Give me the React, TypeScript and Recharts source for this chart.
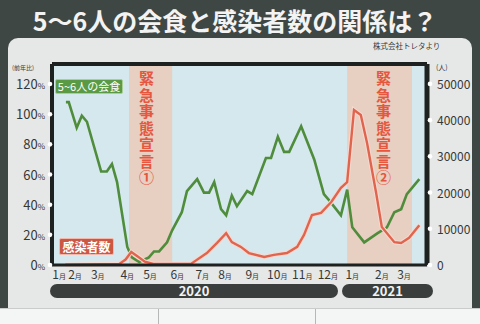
import {
  ComposedChart,
  Line,
  XAxis,
  YAxis,
  ReferenceArea,
  ReferenceLine,
} from "recharts";

// x is in weeks from the start of 2020
const greenWeeks = [2.1, 2.6, 4.0, 4.9, 5.8, 8.3, 9.3, 10.2, 11.1, 12.9, 13.7, 15.0, 16.7, 17.6, 18.5, 19.9, 20.8, 22.5, 23.4, 25.2, 26.4, 27.3, 28.2, 29.4, 30.3, 31.3, 32.2, 34.0, 34.9, 37.3, 38.2, 39.4, 40.5, 41.4, 43.5, 45.8, 47.5, 48.4, 50.5, 51.6, 52.5, 54.6, 56.9, 58.6, 59.9, 61.1, 62.1, 64.3];
const greenPct = [108, 108, 91, 99, 95, 62, 62, 67, 55, 12, 5, 2, 5, 9, 9, 15, 23, 35, 49, 57, 48, 48, 55, 37, 33, 46, 39, 49, 47, 71, 71, 85, 75, 75, 92, 70, 47, 43, 33, 50, 25, 15, 21, 25, 35, 37, 47, 57];

const redWeeks = [2.0, 11.5, 12.6, 13.6, 14.8, 16.0, 17.5, 21.1, 24.1, 26.9, 28.7, 30.3, 31.3, 32.9, 34.3, 37.0, 38.7, 41.0, 42.8, 44.0, 45.4, 47.0, 48.8, 50.5, 51.6, 52.8, 54.0, 55.1, 56.7, 57.7, 59.9, 61.1, 62.5, 64.3];
const redCases = [100, 300, 1500, 3600, 2300, 900, 300, 300, 300, 3300, 6100, 8800, 6300, 5000, 3300, 2200, 2800, 3300, 5000, 8300, 13800, 14400, 17400, 21300, 22900, 42800, 41400, 33700, 19900, 10500, 6300, 6100, 7500, 11000];

const monthTicks = [0.9, 3.7, 7.7, 12.9, 16.9, 21.7, 26.1, 30.1, 34.9, 39.3, 43.7, 48.2, 52.5, 57.7, 61.6];
const monthLabels = ["1", "2", "3", "4", "5", "6", "7", "8", "9", "10", "11", "12", "1", "2", "3"];
const pctTicks = [0, 20, 40, 60, 80, 100, 120];
const caseTicks = [0, 10000, 20000, 30000, 40000, 50000];
const emergencies = [
  { from: 13.2, to: 20.8, label: "緊急事態宣言①" },
  { from: 51.6, to: 63.0, label: "緊急事態宣言②" },
];

const greenData = greenWeeks.map((w, i) => ({ w, pct: greenPct[i] }));
const redData = redWeeks.map((w, i) => ({ w, cases: redCases[i] }));

const FONT = "'Noto Sans CJK JP', 'Noto Sans', sans-serif";
const GREEN = "#4f8c3b";
const RED = "#e0654f";
const TEXT = "#353838";
const FRAME = "#1d2120";

function LeftTick({ x, y, payload }: any) {
  return (
    <g>
      <circle cx={x - 2} cy={y} r={2.3} fill="#fff" />
      <text x={x - 7} y={y + 5} textAnchor="end" fill={TEXT} fontSize={13} fontFamily={FONT}>
        {payload.value}
        <tspan fontSize={8}>%</tspan>
      </text>
    </g>
  );
}

function RightTick({ x, y, payload }: any) {
  return (
    <g>
      <circle cx={x + 3} cy={y} r={2.3} fill="#fff" />
      <text x={x + 10} y={y + 5} textAnchor="start" fill={TEXT} fontSize={12} fontFamily={FONT}>
        {payload.value}
      </text>
    </g>
  );
}

function MonthTick({ x, y, payload }: any) {
  const label = monthLabels[monthTicks.indexOf(payload.value)];
  return (
    <text x={x} y={y + 14} textAnchor="middle" fill={TEXT} fontSize={12} fontFamily={FONT}>
      {label}
      <tspan fontSize={7}>月</tspan>
    </text>
  );
}

function YearPill({ left, width, year }: { left: number; width: number; year: string }) {
  return (
    <div
      style={{
        position: "absolute",
        left,
        top: 284,
        width,
        height: 14,
        borderRadius: 7,
        background: "#3a3f3e",
        color: "#f2f2f2",
        fontFamily: FONT,
        fontWeight: 700,
        fontSize: 13,
        lineHeight: "14px",
        textAlign: "center",
      }}
    >
      {year}
    </div>
  );
}

export default function App() {
  return (
    <div style={{ position: "absolute", left: 0, top: 0, width: 480, height: 324, background: "#3f4744", overflow: "hidden" }}>
      <div
        style={{
          position: "absolute",
          left: 0,
          top: 4,
          width: 470,
          textAlign: "center",
          color: "#f3f3f3",
          fontFamily: FONT,
          fontWeight: 700,
          fontSize: 25,
          lineHeight: "32px",
        }}
      >
        5～6人の会食と感染者数の関係は？
      </div>
      <div style={{ position: "absolute", left: 8, top: 38, width: 464, height: 270, background: "#e6e8e7", borderRadius: "10px 10px 0 0" }} />
      <div style={{ position: "absolute", left: 0, top: 308, width: 480, height: 16, background: "#f4f5f5", borderTop: "1px solid #c9cccb" }} />
      <div style={{ position: "absolute", left: 158, top: 309, width: 1, height: 15, background: "#b5b8b7" }} />
      <div style={{ position: "absolute", left: 315, top: 309, width: 1, height: 15, background: "#b5b8b7" }} />
      <div style={{ position: "absolute", left: 373, top: 40, fontFamily: FONT, fontSize: 7.5, color: TEXT }}>株式会社トレタより</div>
      <div style={{ position: "absolute", left: 12, top: 63, fontFamily: FONT, fontSize: 6, color: TEXT }}>(前年比)</div>
      <div style={{ position: "absolute", left: 436, top: 62, fontFamily: FONT, fontSize: 7, color: TEXT }}>(人)</div>

      <div style={{ position: "absolute", left: 0, top: 0 }}>
        <ComposedChart width={480} height={324} margin={{ top: 64, right: 8, bottom: 39, left: 12 }}>
          <XAxis
            type="number"
            dataKey="w"
            domain={[-0.35, 65.65]}
            ticks={monthTicks}
            interval={0}
            tick={<MonthTick />}
            tickSize={0}
            tickMargin={0}
            height={20}
            axisLine={{ stroke: FRAME, strokeWidth: 3 }}
            allowDuplicatedCategory={false}
          />
          <YAxis
            yAxisId="pct"
            orientation="left"
            domain={[0, 133.3]}
            ticks={pctTicks}
            interval={0}
            tick={<LeftTick />}
            tickSize={0}
            tickMargin={0}
            width={40}
            axisLine={{ stroke: FRAME, strokeWidth: 4 }}
          />
          <YAxis
            yAxisId="cases"
            orientation="right"
            domain={[0, 55500]}
            ticks={caseTicks}
            interval={0}
            tick={<RightTick />}
            tickSize={0}
            tickMargin={0}
            width={45}
            axisLine={{ stroke: FRAME, strokeWidth: 5 }}
          />
          <ReferenceArea yAxisId="pct" x1={-0.35} x2={65.65} y1={0} y2={133.3} fill="#d4e8ed" fillOpacity={1} stroke="none" />
          {emergencies.map((e) => (
            <ReferenceArea key={e.label} yAxisId="pct" x1={e.from} x2={e.to} y1={0} y2={133.3} fill="#e7cfc1" fillOpacity={1} stroke="none" />
          ))}
          <ReferenceLine yAxisId="pct" y={133.3} stroke={FRAME} strokeWidth={4} />
          <Line
            yAxisId="pct"
            data={greenData}
            dataKey="pct"
            type="linear"
            stroke={GREEN}
            strokeWidth={2.6}
            dot={false}
            isAnimationActive={false}
          />
          <Line
            yAxisId="cases"
            data={redData}
            dataKey="cases"
            type="linear"
            stroke="#f6d9d0"
            strokeWidth={4.5}
            dot={false}
            isAnimationActive={false}
          />
          <Line
            yAxisId="cases"
            data={redData}
            dataKey="cases"
            type="linear"
            stroke={RED}
            strokeWidth={2.4}
            dot={false}
            isAnimationActive={false}
          />
        </ComposedChart>
      </div>

      <div
        style={{
          position: "absolute",
          left: 55,
          top: 79,
          width: 68,
          height: 15,
          background: "#5a9a45",
          border: "1px solid #a9cf98",
          borderRadius: 2,
          boxSizing: "border-box",
          color: "#fff",
          fontFamily: FONT,
          fontSize: 11,
          lineHeight: "13px",
          textAlign: "center",
        }}
      >
        5~6人の会食
      </div>
      <div
        style={{
          position: "absolute",
          left: 59,
          top: 238,
          width: 55,
          height: 17,
          background: "#cc5843",
          border: "1px solid #f1b9ad",
          borderRadius: 2,
          boxSizing: "border-box",
          color: "#fff",
          fontFamily: FONT,
          fontWeight: 700,
          fontSize: 12,
          lineHeight: "15px",
          textAlign: "center",
        }}
      >
        感染者数
      </div>
      {[138, 375].map((left, i) => (
        <div
          key={left}
          style={{
            position: "absolute",
            left,
            top: 71,
            width: 16,
            writingMode: "vertical-rl",
            color: "#e5573f",
            fontFamily: FONT,
            fontWeight: 700,
            fontSize: 15,
            lineHeight: "16px",
            letterSpacing: 1.5,
          }}
        >
          {emergencies[i].label}
        </div>
      ))}

      <YearPill left={50} width={288} year="2020" />
      <YearPill left={342} width={91} year="2021" />
    </div>
  );
}
